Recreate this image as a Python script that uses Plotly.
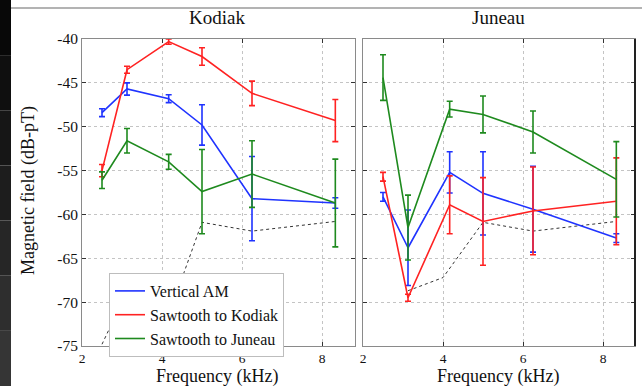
import plotly.graph_objects as go

# Frequencies (kHz) of the measurements
freqs = [2.5, 3.125, 4.167, 5.0, 6.25, 8.333]
series_names = ["Vertical AM", "Sawtooth to Kodiak", "Sawtooth to Juneau"]
colors = ["#1f33ff", "#ff2222", "#1e8a1e"]

# Kodiak receiver: mean field (dB-pT) and error half-widths
kodiak_vert = [-48.4, -45.7, -46.8, -49.8, -58.2, -58.7]
kodiak_vert_err = [0.45, 0.7, 0.45, 2.3, 4.8, 0.6]
kodiak_saw_k = [-55.0, -43.5, -40.3, -42.0, -46.2, -49.3]
kodiak_saw_k_err = [0.7, 0.4, 0.3, 1.0, 1.4, 2.4]
kodiak_saw_j = [-56.1, -51.6, -54.0, -57.4, -55.4, -58.7]
kodiak_saw_j_err = [0.95, 1.4, 0.85, 4.8, 3.8, 5.0]

# Juneau receiver
juneau_vert = [-58.0, -63.8, -55.2, -57.6, -59.4, -62.7]
juneau_vert_err = [0.5, 4.3, 2.35, 4.75, 4.9, 0.5]
juneau_saw_k = [-55.7, -69.5, -58.9, -60.8, -59.6, -58.5]
juneau_saw_k_err = [0.5, 0.4, 3.3, 5.0, 5.0, 4.95]
juneau_saw_j = [-44.4, -61.5, -48.0, -48.6, -50.6, -56.0]
juneau_saw_j_err = [2.6, 3.7, 0.9, 2.1, 2.4, 4.3]

# Background noise floor (dotted)
kodiak_floor_f = [2.5, 3.125, 4.167, 5.0, 6.25, 8.333]
kodiak_floor = [-74.8, -68.8, -71.5, -60.9, -61.9, -60.8]
juneau_floor_f = [3.125, 4.0, 5.0, 6.25, 8.333]
juneau_floor = [-68.7, -67.2, -60.9, -61.9, -60.8]

y_ticks = [-75, -70, -65, -60, -55, -50, -45, -40]
y_tick_text = ["-75", "-70", "-65", "-60", "-55", "-50", "-45", "-40"]
x_ticks = [2, 4, 6, 8]

W, H = 642, 386
FONT = "Liberation Serif"


def px_x(p):
    return p / W


def px_y(p):
    return 1 - p / H


fig = go.Figure()

panels = [
    ("x", "y", [kodiak_vert, kodiak_saw_k, kodiak_saw_j],
     [kodiak_vert_err, kodiak_saw_k_err, kodiak_saw_j_err], kodiak_floor_f, kodiak_floor, True),
    ("x2", "y2", [juneau_vert, juneau_saw_k, juneau_saw_j],
     [juneau_vert_err, juneau_saw_k_err, juneau_saw_j_err], juneau_floor_f, juneau_floor, False),
]

for xa, ya, vals, errs, ff, fl, show in panels:
    fig.add_trace(go.Scatter(
        x=ff, y=fl, xaxis=xa, yaxis=ya, mode="lines",
        line=dict(color="#333333", width=1, dash="dot"),
        showlegend=False, hoverinfo="skip"))
    for name, color, v, e in zip(series_names, colors, vals, errs):
        fig.add_trace(go.Scatter(
            x=freqs, y=v, xaxis=xa, yaxis=ya, mode="lines", name=name,
            line=dict(color=color, width=1.6),
            error_y=dict(type="data", array=e, visible=True, color=color,
                         thickness=1.6, width=3),
            showlegend=show))

axis_common = dict(
    showgrid=True, gridcolor="#c4c4c4", griddash="dot", gridwidth=1,
    showline=True, linecolor="#8a8a8a", linewidth=1, mirror="ticks",
    ticks="inside", ticklen=4, tickcolor="#333333", zeroline=False,
    automargin=False,
)
x_font = dict(family=FONT, size=13.5, color="#111111")
y_font = dict(family=FONT, size=15.5, color="#111111")

fig.update_layout(
    width=W, height=H, autosize=False,
    margin=dict(l=0, r=0, t=0, b=0, pad=0, autoexpand=False),
    paper_bgcolor="white", plot_bgcolor="white",
    xaxis=dict(domain=[px_x(82), px_x(355)], range=[2, 8.825], tickvals=x_ticks,
               anchor="y", tickfont=x_font, **axis_common),
    yaxis=dict(domain=[px_y(346), px_y(39)], range=[-75, -40], tickvals=y_ticks,
               ticktext=y_tick_text, anchor="x", tickfont=y_font, **axis_common),
    xaxis2=dict(domain=[px_x(363), px_x(635)], range=[2, 8.8], tickvals=x_ticks,
                anchor="y2", tickfont=x_font, **axis_common),
    yaxis2=dict(domain=[px_y(346), px_y(39)], range=[-75, -40], tickvals=y_ticks,
                anchor="x2", showticklabels=False, tickfont=y_font, **axis_common),
    legend=dict(x=px_x(109), y=px_y(273), xanchor="left", yanchor="top",
                bgcolor="white", bordercolor="#bdbdbd", borderwidth=1,
                font=dict(family=FONT, size=16, color="#111111"),
                tracegroupgap=0, itemwidth=30),
    showlegend=True,
)

annotations = [
    dict(text="Kodiak", x=px_x(217), y=px_y(18), size=19),
    dict(text="Juneau", x=px_x(498), y=px_y(18), size=19),
    dict(text="Frequency (kHz)", x=px_x(217), y=px_y(376), size=18),
    dict(text="Frequency (kHz)", x=px_x(498), y=px_y(376), size=18),
]
for a in annotations:
    fig.add_annotation(xref="paper", yref="paper", showarrow=False,
                       xanchor="center", yanchor="middle", borderpad=0,
                       text=a["text"], x=a["x"], y=a["y"],
                       font=dict(family=FONT, size=a["size"], color="#111111"))
fig.add_annotation(text="Magnetic field (dB-pT)", xref="paper", yref="paper",
                   x=px_x(28), y=px_y(191), textangle=-90, showarrow=False,
                   xanchor="center", yanchor="middle", borderpad=0,
                   font=dict(family=FONT, size=18, color="#111111"))

# dark strip on the left edge, shaded top to bottom
strip = ["#080808", "#0f0f0f", "#161616", "#1d1d1d", "#262626", "#2e2e2e", "#353535"]
n = len(strip)
for i, c in enumerate(strip):
    fig.add_shape(type="rect", xref="paper", yref="paper",
                  x0=0, x1=px_x(11), y0=1 - (i + 1) / n, y1=1 - i / n,
                  fillcolor=c, line=dict(width=0), layer="above")
# thin rule across the top
fig.add_shape(type="line", xref="paper", yref="paper",
              x0=px_x(11), x1=1, y0=px_y(8), y1=px_y(8),
              line=dict(color="#9a9a9a", width=1.5))
# dark right border of the Juneau panel
fig.add_shape(type="line", xref="paper", yref="paper",
              x0=px_x(635), x1=px_x(635), y0=px_y(346), y1=px_y(39),
              line=dict(color="#222222", width=2))

fig.write_html("out.html")
